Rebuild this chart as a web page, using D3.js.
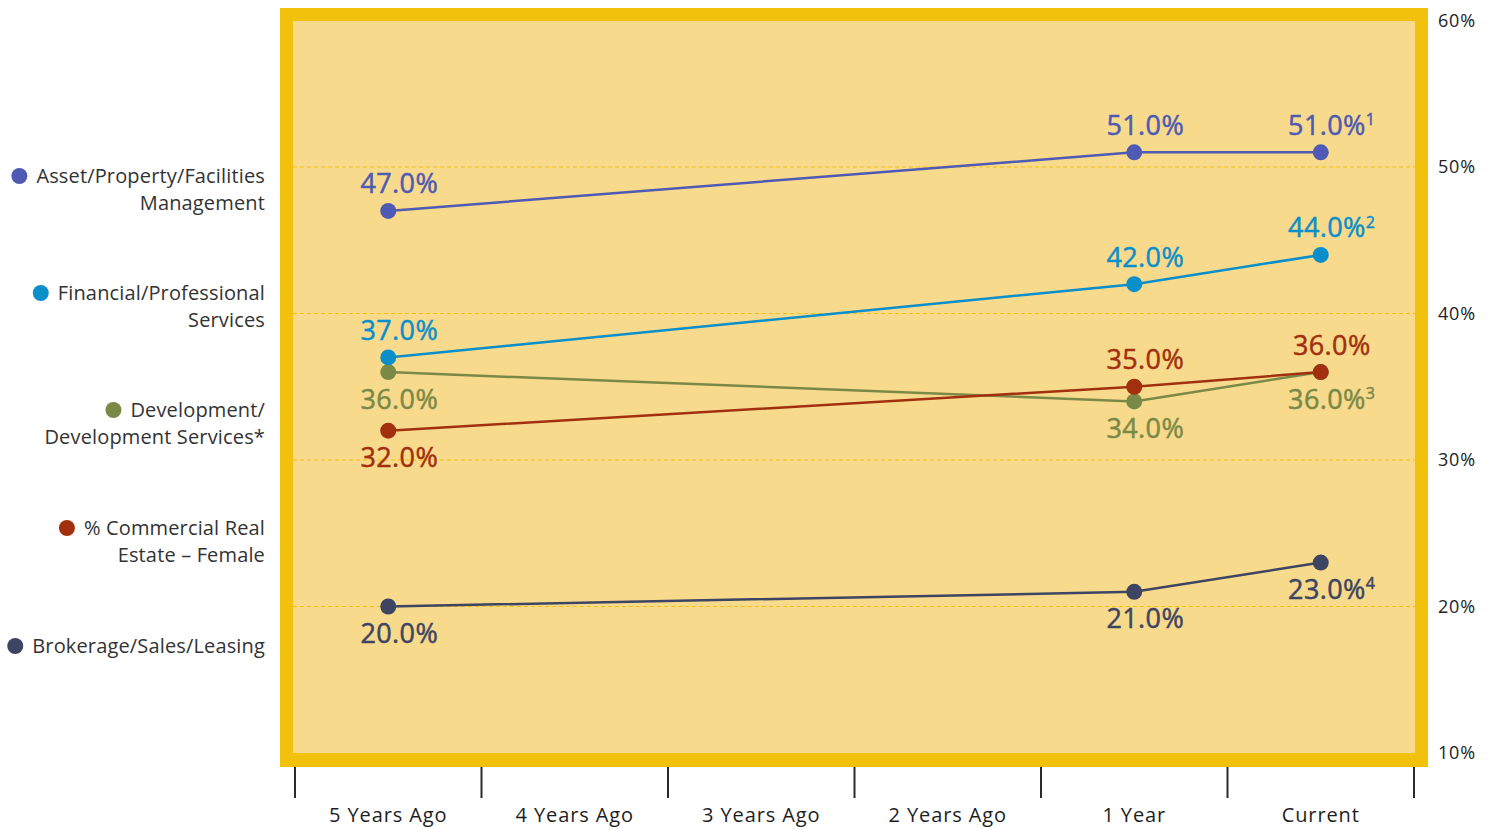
<!DOCTYPE html>
<html>
<head>
<meta charset="utf-8">
<script src="https://cdn.jsdelivr.net/npm/d3@7"></script>
<style>
  html, body { margin: 0; padding: 0; background: #fff; }
  svg { display: block; }
  text { font-family: "Open Sans", "Noto Sans", sans-serif; }
</style>
</head>
<body>
<svg id="chart" width="1497" height="829"></svg>
<script>
// Periods along the x axis
const periods = ["5 Years Ago", "4 Years Ago", "3 Years Ago", "2 Years Ago", "1 Year", "Current"];

// Percent values per period (null = no survey that year)
const assetValues       = [47, null, null, null, 51, 51];
const financialValues   = [37, null, null, null, 42, 44];
const developmentValues = [36, null, null, null, 34, 36];
const femaleValues      = [32, null, null, null, 35, 36];
const brokerageValues   = [20, null, null, null, 21, 23];

// Footnote markers on the "Current" labels
const assetNote = "1", financialNote = "2", developmentNote = "3", femaleNote = "", brokerageNote = "4";

// Right axis ticks
const yTicks = [10, 20, 30, 40, 50, 60];
const gridTicks = [20, 30, 40, 50];

const series = [
  { name: ["Asset/Property/Facilities", "Management"], values: assetValues, note: assetNote,
    color: "#4E5AB3", place: ["above","above","above","above","above","above"] },
  { name: ["Financial/Professional", "Services"], values: financialValues, note: financialNote,
    color: "#0A8FCB", place: ["above","above","above","above","above","above"] },
  { name: ["Development/", "Development Services*"], values: developmentValues, note: developmentNote,
    color: "#7B8947", place: ["below","below","below","below","below","below"] },
  { name: ["% Commercial Real", "Estate \u2013 Female"], values: femaleValues, note: femaleNote,
    color: "#A2300E", place: ["below","below","below","below","above","above"] },
  { name: ["Brokerage/Sales/Leasing"], values: brokerageValues, note: brokerageNote,
    color: "#3E4562", place: ["below","below","below","below","below","below"] }
];

const svg = d3.select("#chart");

// Plot frame
const frame = { x0: 280, y0: 8, x1: 1428, y1: 767, border: 13 };
const inner = { x0: frame.x0 + frame.border, y0: frame.y0 + frame.border,
                x1: frame.x1 - frame.border, y1: frame.y1 - 14 };

svg.append("rect")
  .attr("x", frame.x0).attr("y", frame.y0)
  .attr("width", frame.x1 - frame.x0).attr("height", frame.y1 - frame.y0)
  .attr("fill", "#F2C10B");
svg.append("rect")
  .attr("x", inner.x0).attr("y", inner.y0)
  .attr("width", inner.x1 - inner.x0).attr("height", inner.y1 - inner.y0)
  .attr("fill", "#F7DA8C");

// Scales
const x = d3.scaleBand().domain(periods).range([295, 1414]).padding(0);
const y = d3.scaleLinear().domain([10, 60]).range([753, 20.5]);
const cx = p => x(p) + x.bandwidth() / 2;

// Dashed gridlines
svg.append("g").selectAll("line").data(gridTicks).join("line")
  .attr("x1", inner.x0).attr("x2", inner.x1)
  .attr("y1", d => y(d)).attr("y2", d => y(d))
  .attr("stroke", "#F2C10B").attr("stroke-width", 1.2)
  .attr("stroke-dasharray", "4,3");

// Right axis labels
svg.append("g").selectAll("text").data(yTicks).join("text")
  .attr("x", 1438).attr("y", d => y(d))
  .attr("dy", "0.35em")
  .attr("font-size", 18).attr("fill", "#222")
  .attr("letter-spacing", 0.8)
  .text(d => d + "%");

// Bottom axis: ticks at band boundaries, labels centered in bands
const boundaries = periods.map(p => x(p)).concat([x.range()[1]]);
svg.append("g").selectAll("line").data(boundaries).join("line")
  .attr("x1", d => d).attr("x2", d => d)
  .attr("y1", frame.y1).attr("y2", 798)
  .attr("stroke", "#2b2b2b").attr("stroke-width", 2);
svg.append("g").selectAll("text").data(periods).join("text")
  .attr("x", d => cx(d)).attr("y", 815)
  .attr("dy", "0.35em")
  .attr("text-anchor", "middle")
  .attr("font-size", 20).attr("fill", "#1e1e1e")
  .attr("letter-spacing", 0.9)
  .text(d => d);

// Series lines, points and value labels (drawn bottom-up so the later ones sit on top)
const line = d3.line().x(d => cx(d.p)).y(d => y(d.v));
const drawOrder = [4, 2, 3, 1, 0];
drawOrder.forEach(i => {
  const s = series[i];
  const pts = s.values.map((v, k) => ({ p: periods[k], v, k })).filter(d => d.v !== null);
  const g = svg.append("g");
  g.append("path").datum(pts)
    .attr("d", line).attr("fill", "none")
    .attr("stroke", s.color).attr("stroke-width", 2.5);
  g.selectAll("circle").data(pts).join("circle")
    .attr("cx", d => cx(d.p)).attr("cy", d => y(d.v)).attr("r", 8)
    .attr("fill", s.color);
  const labels = g.selectAll("text").data(pts).join("text")
    .attr("x", d => cx(d.p) + 11)
    .attr("y", d => y(d.v) + (s.place[d.k] === "above" ? -27 : 27))
    .attr("dy", "0.35em")
    .attr("text-anchor", "middle")
    .attr("font-size", 27)
    .attr("letter-spacing", 0.4)
    .attr("fill", s.color)
    .attr("stroke", s.color).attr("stroke-width", 0.5);
  labels.append("tspan").text(d => d.v.toFixed(1) + "%");
  labels.filter(d => d.k === periods.length - 1 && s.note)
    .append("tspan")
    .attr("font-size", 16).attr("dy", "-0.6em")
    .text(s.note);
});

// Legend on the left, right-aligned text with a dot before the first line
const legendTop = [176, 293, 410, 528, 646];
series.forEach((s, i) => {
  const g = svg.append("g");
  const t = g.append("text")
    .attr("text-anchor", "end")
    .attr("font-size", 20).attr("fill", "#333")
    .attr("letter-spacing", 0.15);
  s.name.forEach((ln, j) => {
    t.append("tspan").attr("x", 265).attr("y", legendTop[i] + j * 27)
      .attr("dy", "0.35em").text(ln);
  });
  const firstLen = t.select("tspan").node().getComputedTextLength();
  g.append("circle")
    .attr("cx", 265 - firstLen - 17).attr("cy", legendTop[i]).attr("r", 8)
    .attr("fill", s.color);
});
</script>
</body>
</html>
